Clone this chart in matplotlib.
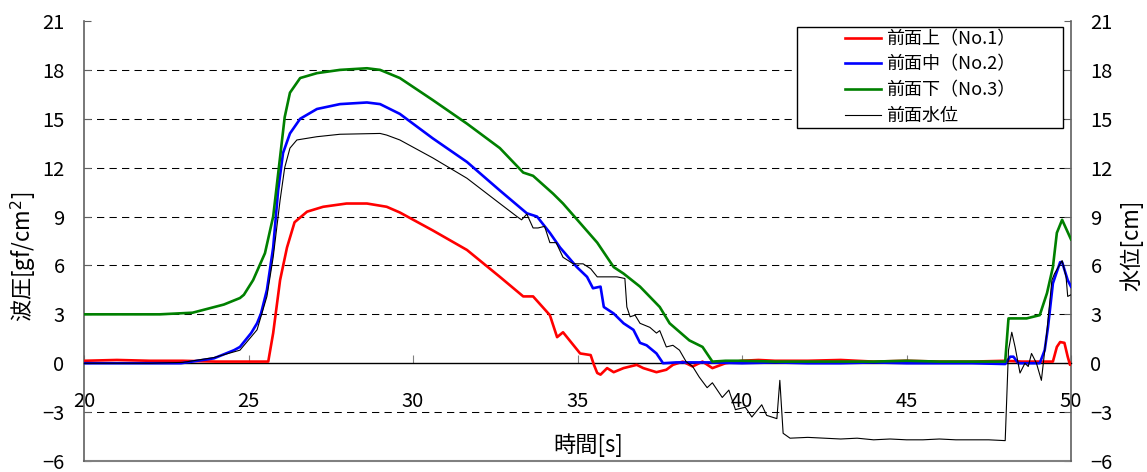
import matplotlib
matplotlib.use('Agg')
import matplotlib.pyplot as plt
from matplotlib.patches import Rectangle

plt.rcParams['font.family'] = ['Noto Sans CJK JP', 'DejaVu Sans']
plt.rcParams['axes.unicode_minus'] = True

# ---------------- data ----------------
labels = ['前面上（No.1）', '前面中（No.2）', '前面下（No.3）', '前面水位']
colors = ['#ff0000', '#0000ff', '#008000', '#000000']

t_no1 = [20, 21, 22, 23, 24, 25, 25.6, 25.75, 25.96, 26.17, 26.4, 26.78, 27.27, 27.98, 28.6, 29.2,
         29.6, 30.6, 31.64, 32.64, 33.35, 33.65, 34.16, 34.38, 34.56, 35.08, 35.4, 35.5, 35.6, 35.7,
         35.9, 36.1, 36.4, 36.8, 37.0, 37.4, 37.7, 37.9, 38.2, 38.5, 38.8, 39.1, 39.5, 40.0, 40.5,
         41, 42, 43, 44, 45, 46, 47, 48, 48.5, 49.0, 49.45, 49.57, 49.67, 49.8, 49.9, 49.97, 50]
v_no1 = [0.15, 0.2, 0.15, 0.15, 0.1, 0.1, 0.1, 1.85, 5.1, 7.1, 8.65, 9.3, 9.6, 9.8, 9.8, 9.6,
         9.25, 8.15, 6.95, 5.3, 4.1, 4.1, 2.95, 1.6, 1.9, 0.6, 0.5, -0.1, -0.6, -0.7,
         -0.3, -0.55, -0.3, -0.1, -0.3, -0.55, -0.4, -0.1, 0.1, -0.2, 0.1, -0.3, 0.0, 0.15, 0.2,
         0.15, 0.15, 0.2, 0.1, 0.15, 0.1, 0.1, 0.15, 0.1, 0.1, 0.1, 1.0, 1.3, 1.25, 0.4, -0.1, 0.0]

t_no2 = [20, 21, 22, 22.95, 23.95, 24.56, 24.74, 25.08, 25.26, 25.38, 25.56, 25.75, 25.9, 26.05,
         26.26, 26.57, 27.08, 27.78, 28.6, 29.0, 29.6, 30.6, 31.64, 32.64, 33.46, 33.77, 34.16,
         34.47, 34.98, 35.29, 35.47, 35.7, 35.8, 36.1, 36.4, 36.7, 36.9, 37.1, 37.4, 37.6, 38, 39,
         40, 41, 42, 43, 44, 45, 46, 47, 48.0, 48.15, 48.25, 48.4, 48.7, 49.05, 49.2, 49.3, 49.45,
         49.55, 49.67, 49.73, 49.9, 50]
v_no2 = [0.0, 0.0, 0.0, 0.0, 0.3, 0.8, 1.0, 1.85, 2.45, 3.05, 4.5, 7.1, 10.6, 12.9,
         14.1, 15.0, 15.6, 15.9, 16.0, 15.9, 15.3, 13.8, 12.35, 10.6, 9.2, 9.0, 8.0,
         7.1, 5.9, 5.3, 4.6, 4.7, 3.45, 3.05, 2.45, 2.05, 1.25, 1.1, 0.6, 0.0, 0.05, 0.05,
         0.0, 0.05, 0.0, 0.0, 0.05, 0.0, 0.0, 0.0, -0.05, 0.4, 0.4, 0.0, 0.0, 0.0, 0.8, 2.2, 4.9,
         5.5, 6.2, 6.2, 5.1, 4.7]

t_no3 = [20, 21, 22, 22.3, 23.3, 24.25, 24.74, 24.86, 25.14, 25.5, 25.75, 25.96, 26.1, 26.26,
         26.57, 27.08, 27.78, 28.6, 29.0, 29.6, 30.6, 31.64, 32.64, 33.35, 33.65, 34.26, 34.56,
         35.08, 35.6, 36.1, 36.4, 36.9, 37.5, 37.8, 38.4, 38.8, 39.1, 39.5, 40, 41, 42, 43, 44,
         45, 46, 47, 48.0, 48.1, 48.15, 48.65, 49.05, 49.27, 49.45, 49.57, 49.73, 50]
v_no3 = [3.0, 3.0, 3.0, 3.0, 3.1, 3.6, 4.0, 4.2, 5.1, 6.75, 9.0, 12.65, 15.1, 16.6,
         17.5, 17.8, 18.0, 18.1, 18.0, 17.5, 16.15, 14.7, 13.2, 11.7, 11.5, 10.4, 9.8,
         8.6, 7.4, 5.9, 5.5, 4.7, 3.45, 2.45, 1.4, 1.0, 0.1, 0.15, 0.15, 0.1, 0.1, 0.1, 0.1,
         0.15, 0.1, 0.1, 0.1, 2.75, 2.75, 2.75, 2.95, 4.3, 5.9, 8.0, 8.8, 7.6]

t_wl = [20, 21, 22, 23, 23.95, 24.74, 25.26, 25.56, 25.75, 25.96, 26.1, 26.26, 26.47, 27.08, 27.78,
        29.0, 29.2, 29.6, 30.6, 31.64, 32.64, 33.16, 33.3, 33.46, 33.65, 33.8, 34.0, 34.16, 34.35,
        34.56, 34.87, 35.17, 35.4, 35.6, 35.9, 36.2, 36.44, 36.5, 36.6, 36.75, 36.9, 37.2, 37.4,
        37.5, 37.7, 37.9, 38.1, 38.3, 38.5, 38.7, 38.94, 39.1, 39.4, 39.6, 39.8, 40.1, 40.3, 40.6,
        40.75, 41.06, 41.15, 41.25, 41.46, 42, 42.5, 43, 43.5, 44, 44.5, 45, 45.5, 46, 46.5, 47,
        47.5, 48.0, 48.1, 48.2, 48.3, 48.45, 48.6, 48.7, 48.8, 48.95, 49.1, 49.27, 49.42, 49.5,
        49.73, 49.85, 49.9, 50]
v_wl = [0.0, 0.0, 0.0, 0.05, 0.35, 0.8, 2.05, 4.1, 6.5, 10.0, 12.0, 13.2, 13.7, 13.9, 14.05,
        14.1, 14.0, 13.7, 12.6, 11.35, 9.8, 9.0, 8.8, 9.15, 8.3, 8.3, 8.4, 7.4, 7.4,
        6.5, 6.1, 6.1, 5.8, 5.3, 5.3, 5.3, 5.2, 3.45, 2.85, 2.95, 2.45, 2.2, 1.85,
        2.0, 1.0, 1.1, 0.8, 0.1, -0.2, -0.85, -1.5, -1.2, -2.1, -1.65, -2.85, -2.7, -3.3, -2.55,
        -3.2, -3.4, -1.05, -4.3, -4.6, -4.55, -4.6, -4.65, -4.6, -4.7, -4.65, -4.7, -4.7, -4.65, -4.7, -4.7,
        -4.7, -4.75, 0.8, 1.9, 1.0, -0.6, 0.0, -0.2, 0.6, 0.0, -1.05, 2.0, 5.1, 5.5,
        6.3, 5.3, 4.1, 4.2]

x_ticks = [20, 25, 30, 35, 40, 45, 50]
y_ticks = [-6, -3, 0, 3, 6, 9, 12, 15, 18, 21]
grid_levels = [-3, 3, 6, 9, 12, 15, 18]

# ---------------- figure ----------------
W, H = 1147, 472
fig = plt.figure(figsize=(W / 100, H / 100), dpi=100)
ax = fig.add_axes([84 / W, 11 / H, 987 / W, 440 / H])

series = [(t_no1, v_no1, 1.9), (t_no2, v_no2, 1.9), (t_no3, v_no3, 1.9), (t_wl, v_wl, 0.8)]
handles = []
for (t, v, lw), c, lab in zip(series, colors, labels):
    h, = ax.plot(t, v, color=c, lw=lw, label=lab, zorder=3, solid_joinstyle='round')
    handles.append(h)

for g in grid_levels:
    ax.axhline(g, color='black', lw=0.75, ls=(0, (7, 5)), zorder=1)

ax.set_xlim(20, 50)
ax.set_ylim(-6, 21)
ax.set_xticks(x_ticks)
ax.set_yticks(y_ticks)

ax.spines['top'].set_visible(False)
ax.spines['bottom'].set_position(('data', 0))
ax.spines['bottom'].set_color('black')
ax.spines['bottom'].set_linewidth(1.0)
for s in ['left', 'right']:
    ax.spines[s].set_color('#606060')
    ax.spines[s].set_linewidth(1.2)
ax.axhline(-6, color='#808080', lw=1.5, clip_on=False, zorder=2)

ax.tick_params(axis='y', direction='in', length=5, left=True, right=True,
               labelleft=True, labelright=True, labelsize=14.5, pad=14,
               color='#606060', labelcolor='black')
ax.tick_params(axis='x', direction='in', length=6, pad=20, labelsize=14.5,
               color='#808080', labelcolor='black')

fig.text(24 / W, 1 - 257 / H, r'波圧[gf/cm$^2$]', rotation=90, ha='center', va='center', fontsize=16)
fig.text(1132 / W, 1 - 245 / H, '水位[cm]', rotation=90, ha='center', va='center', fontsize=16)
fig.text(588 / W, 1 - 445 / H, '時間[s]', ha='center', va='center', fontsize=16)

# legend box
x0 = (797 - 84) / 987
x1 = (1063 - 84) / 987
y0 = (461 - 128) / 440
y1 = (461 - 27) / 440
ax.add_patch(Rectangle((x0, y0), x1 - x0, y1 - y0, transform=ax.transAxes,
                       facecolor='white', edgecolor='black', lw=1.0, zorder=5, clip_on=False))
leg = ax.legend(handles=handles, loc='center', bbox_to_anchor=((x0 + x1) / 2, (y0 + y1) / 2),
                frameon=False, fontsize=13, handlelength=2.0, labelspacing=0.42,
                handletextpad=0.3, borderpad=0.1)
leg.set_zorder(6)

fig.savefig('out.png', dpi=100)
